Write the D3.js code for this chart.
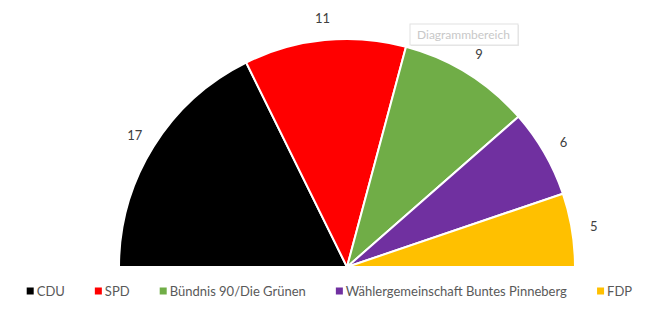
<!DOCTYPE html>
<html>
<head>
<meta charset="utf-8">
<script src="https://cdn.jsdelivr.net/npm/d3@7"></script>
<style>
  body { margin: 0; background: #fff; }
  svg { display: block; font-family: Lato, "Noto Sans", sans-serif; }
</style>
</head>
<body>
<div id="chart"></div>
<script>
// Seat distribution
const parties = ["CDU", "SPD", "Bündnis 90/Die Grünen", "Wählergemeinschaft Buntes Pinneberg", "FDP"];
const seats = [17, 11, 9, 6, 5];
const colors = ["#000000", "#ff0000", "#70ad47", "#7030a0", "#ffc000"];

const width = 653, height = 321;
const cx = 347, cy = 267, radius = 228;

const svg = d3.select("#chart").append("svg")
    .attr("width", width)
    .attr("height", height);

const data = parties.map((p, i) => ({ party: p, value: seats[i], color: colors[i] }));

// half pie from left (-90deg) to right (+90deg)
const pie = d3.pie()
    .sort(null)
    .value((d) => d.value)
    .startAngle(-Math.PI / 2)
    .endAngle(Math.PI / 2);

const arcs = pie(data);

const arc = d3.arc().innerRadius(0).outerRadius(radius);
const labelArc = d3.arc().innerRadius(250).outerRadius(250);

const g = svg.append("g").attr("transform", `translate(${cx},${cy})`);

g.selectAll("path")
    .data(arcs)
    .enter()
    .append("path")
    .attr("d", arc)
    .attr("fill", (d) => d.data.color)
    .attr("stroke", "#fff")
    .attr("stroke-width", 2)
    .attr("stroke-linejoin", "round");

g.selectAll("text.label")
    .data(arcs)
    .enter()
    .append("text")
    .attr("class", "label")
    .attr("transform", (d) => `translate(${labelArc.centroid(d)})`)
    .attr("text-anchor", "middle")
    .attr("dy", "0.35em")
    .attr("font-size", 13)
    .attr("fill", "#404040")
    .text((d) => d.data.value);

// Legend, laid out in a row
const legend = svg.append("g").attr("transform", "translate(0,291)");
const items = legend.selectAll("g")
    .data(data)
    .enter()
    .append("g");

items.append("rect")
    .attr("x", 0)
    .attr("y", -3.5)
    .attr("width", 7)
    .attr("height", 7)
    .attr("fill", (d) => d.color);

items.append("text")
    .attr("x", 10)
    .attr("dy", "0.35em")
    .attr("font-size", 13)
    .attr("fill", "#595959")
    .text((d) => d.party);

const gap = 30;
const widths = [];
items.each(function () { widths.push(this.getBBox().width); });
const total = d3.sum(widths) + gap * (widths.length - 1);
let x = (28 + 631 - total) / 2;
items.attr("transform", (d, i) => {
    const t = `translate(${x},0)`;
    x += widths[i] + gap;
    return t;
});

// Excel hover tooltip
const tip = svg.append("g").attr("transform", "translate(410,24)");
tip.append("rect")
    .attr("x", 1).attr("y", 1)
    .attr("width", 108).attr("height", 21)
    .attr("fill", "#e8e8e8");
tip.append("rect")
    .attr("width", 108).attr("height", 21)
    .attr("fill", "#fff")
    .attr("stroke", "#e2e2e2");
tip.append("text")
    .attr("x", 7).attr("y", 11)
    .attr("dy", "0.35em")
    .attr("font-size", 12)
    .attr("fill", "#c8c8c8")
    .text("Diagrammbereich");
</script>
</body>
</html>
